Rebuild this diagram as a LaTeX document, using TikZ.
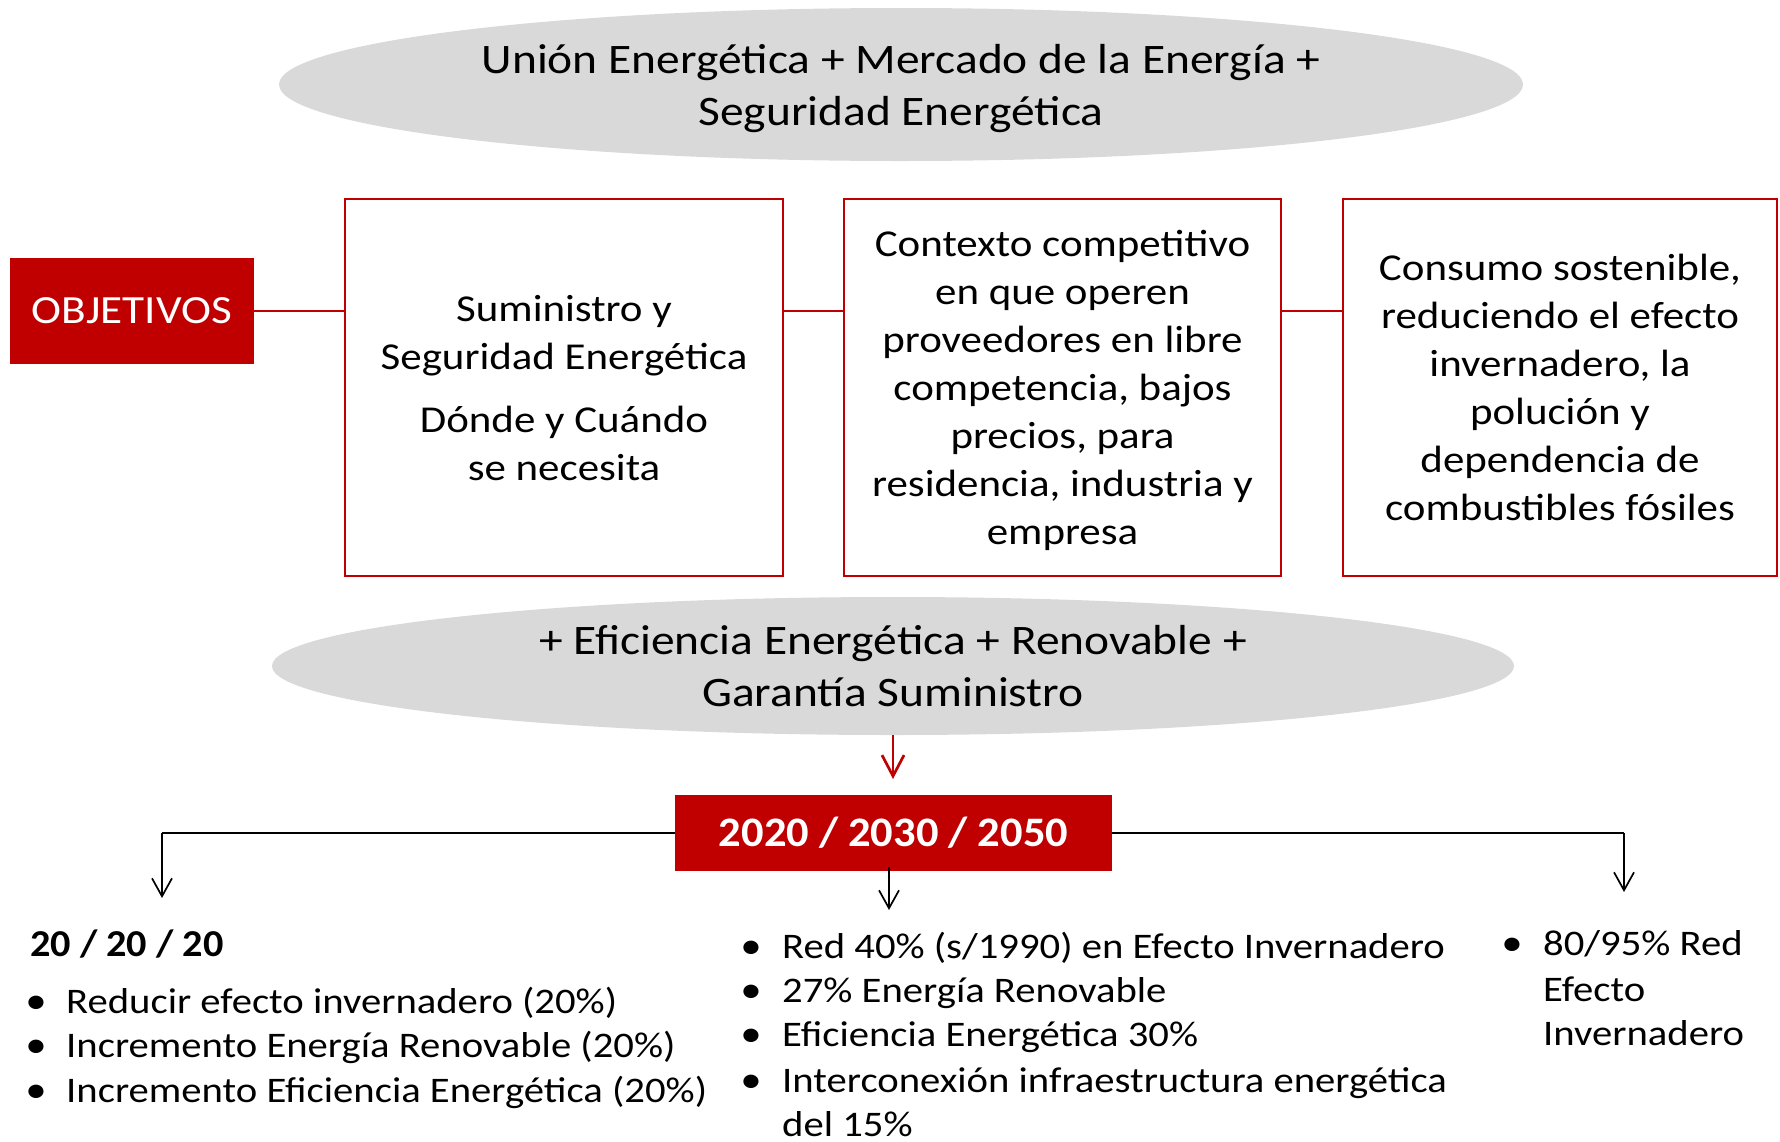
\documentclass[tikz,border=0pt]{standalone}
\usepackage{fontspec}
\setmainfont{Carlito}[FakeStretch=1.13]
\newfontfamily\bwide{Carlito}[FakeStretch=1.06]
\usetikzlibrary{arrows.meta,shapes.geometric}
\definecolor{rojo}{HTML}{C00000}
\definecolor{gris}{HTML}{D9D9D9}
\begin{document}
\begin{tikzpicture}[x=1pt,y=-1pt,
  ell/.style={ellipse, fill=gris, draw=none, inner sep=0pt},
  ebox/.style={rectangle, draw=rojo, line width=2.3pt, inner sep=0pt},
  rbox/.style={rectangle, fill=rojo, inner sep=0pt, text=white},
  etext/.style={align=center, inner sep=0pt, font=\fontsize{42}{52}\selectfont},
  btext/.style={align=center, inner sep=0pt, font=\fontsize{38}{48}\selectfont},
  rline/.style={draw=rojo, line width=2pt},
  barrow/.style={draw=black, line width=1.7pt, -{Straight Barb[length=18pt,width=20pt]}},
  itm/.style={anchor=base west, inner sep=0pt, font=\fontsize{36}{44}\selectfont},
  bul/.style={anchor=base, inner sep=0pt, font=\fontsize{38}{44}\selectfont},
]
\useasboundingbox (0,0) rectangle (1780,1141);

% top ellipse
\node[ell, minimum width=1244pt, minimum height=153pt] (e1) at (901,84.5) {};
\node[etext] (e1t) at ([yshift=-4pt]e1.center) {Unión Energética + Mercado de la Energía +\\Seguridad Energética};

% objective boxes
\node[rbox, minimum width=244pt, minimum height=106pt, font=\fontsize{40}{48}\selectfont] (obj) at (132,311) {OBJETIVOS};
\node[ebox, minimum width=438pt, minimum height=377pt] (b1) at (564,387.5) {};
\node[ebox, minimum width=437pt, minimum height=377pt] (b2) at (1062.5,387.5) {};
\node[ebox, minimum width=434pt, minimum height=377pt] (b3) at (1560,387.5) {};
\node[btext] (b1t) at ([yshift=-1pt]b1.center) {Suministro y\\Seguridad Energética\\[15pt]Dónde y Cuándo\\se necesita};
\node[btext] (b2t) at ([yshift=-3pt]b2.center) {Contexto competitivo\\en que operen\\proveedores en libre\\competencia, bajos\\precios, para\\residencia, industria y\\empresa};
\node[btext] (b3t) at (b3) {Consumo sostenible,\\reduciendo el efecto\\invernadero, la\\polución y\\dependencia de\\combustibles fósiles};

\draw[rline] (obj.east) -- (obj.east -| b1.west);
\draw[rline] (obj.east -| b1.east) -- (obj.east -| b2.west);
\draw[rline] (obj.east -| b2.east) -- (obj.east -| b3.west);

% second ellipse
\node[ell, minimum width=1242pt, minimum height=138pt] (e2) at (893,666) {};
\node[etext] (e2t) at (e2) {+ Eficiencia Energética + Renovable +\\Garantía Suministro};

% years box
\node[rbox, minimum width=437pt, minimum height=76pt, font=\bwide\bfseries\fontsize{42}{50}\selectfont] (yrs) at (893.5,833) {2020 / 2030 / 2050};

\coordinate (rtip) at (893,779);
\draw[draw=rojo, line width=2.7pt, -{Straight Barb[length=21pt,width=22pt]}] (e2.south) -- (rtip);

\coordinate (lc) at (162,833);
\coordinate (rc) at (1624,833);
\coordinate (ltip) at (162,898);
\coordinate (rtip2) at (1624,892);
\coordinate (mtip) at (889,910);
\draw[line width=2pt] (yrs.west) -- (lc);
\draw[line width=2.7pt] (yrs.east) -- (rc);
\draw[barrow] (lc) -- (ltip);
\draw[barrow] (rc) -- (rtip2);
\draw[barrow] ([xshift=-4.5pt,yshift=4pt]yrs.south) -- (mtip);

% left column
\node[itm, font=\bwide\bfseries\fontsize{38}{44}\selectfont] (l0) at (30,956) {20 / 20 / 20};
\node[bul] (lb1) at (36,1013) {•};
\node[bul] (lb2) at (36,1057) {•};
\node[bul] (lb3) at (36,1102) {•};
\node[itm] (l1) at (66,1013) {Reducir efecto invernadero (20\%)};
\node[itm] (l2) at (66,1057) {Incremento Energía Renovable (20\%)};
\node[itm] (l3) at (66,1102) {Incremento Eficiencia Energética (20\%)};

% middle column
\node[bul] (mb1) at (751,958) {•};
\node[bul] (mb2) at (751,1002) {•};
\node[bul] (mb3) at (751,1046) {•};
\node[bul] (mb4) at (751,1092) {•};
\node[itm] (m1) at (782,958) {Red 40\% (s/1990) en Efecto Invernadero};
\node[itm] (m2) at (782,1002) {27\% Energía Renovable};
\node[itm] (m3) at (782,1046) {Eficiencia Energética 30\%};
\node[itm] (m4) at (782,1092) {Interconexión infraestructura energética};
\node[itm] (m5) at (782,1136) {del 15\%};

% right column
\node[bul] (rb1) at (1512,955) {•};
\node[itm] (r1) at (1543,955) {80/95\% Red};
\node[itm] (r2) at (1543,1001) {Efecto};
\node[itm] (r3) at (1543,1045) {Invernadero};
\end{tikzpicture}
\end{document}
